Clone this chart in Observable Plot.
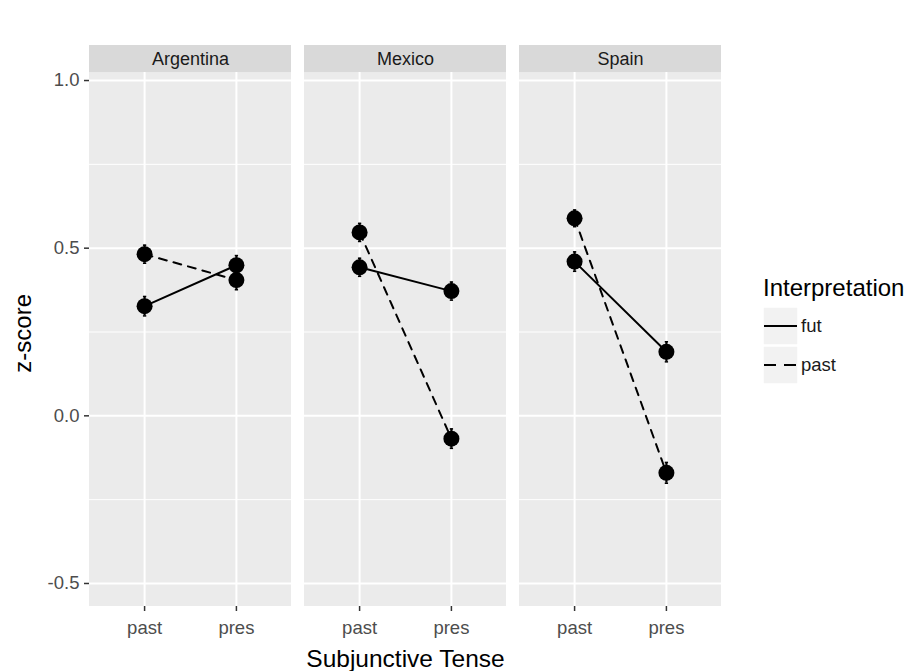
<!DOCTYPE html>
<html><head><meta charset="utf-8">
<script src="https://cdn.jsdelivr.net/npm/d3@7"></script>
<script src="https://cdn.jsdelivr.net/npm/@observablehq/plot@0.6"></script>
<style>
body{margin:0;background:#fff;}
#wrap{position:relative;width:910px;height:671px;font-family:"Liberation Sans",Arial,Helvetica,sans-serif;}
#legend{position:absolute;left:0;top:0;}
</style></head><body><div id="wrap"></div>
<script>
// ---- data ----
const countries = ["Argentina", "Mexico", "Spain"];
const tenses = ["past", "pres"];
const interpretations = ["fut", "past"];
// means, in order: Argentina past, Argentina pres, Mexico past, Mexico pres, Spain past, Spain pres
const futMean  = [0.327, 0.449, 0.443, 0.372, 0.460, 0.191];
const pastMean = [0.482, 0.405, 0.547, -0.068, 0.589, -0.170];
const futSE    = [0.029, 0.029, 0.027, 0.027, 0.029, 0.030];
const pastSE   = [0.027, 0.029, 0.027, 0.029, 0.025, 0.031];
const yTicks = [-0.5, 0, 0.5, 1.0];
const yMinor = [-0.25, 0.25, 0.75];

const rows = [];
countries.forEach((c, ci) => tenses.forEach((t, ti) => {
  const k = ci * 2 + ti;
  rows.push({country: c, tense: t, interp: "fut", mean: futMean[k], se: futSE[k]});
  rows.push({country: c, tense: t, interp: "past", mean: pastMean[k], se: pastSE[k]});
}));

// ---- layout ----
const W = 910, H = 671;
const mL = 88, mR = 188, mT = 45, mB = 65;
const pxPerUnit = 335;
const yMin = -0.5 - 23 / pxPerUnit;
const panelTop = 1.0 + 8 / pxPerUnit;
const yMax = 1.0 + 35 / pxPerUnit;
const stripMid = (panelTop + yMax) / 2;
const xOf = d => tenses.indexOf(d.tense) + 1;
const cap = 0.018;

const chart = Plot.plot({
  width: W, height: H,
  marginLeft: mL, marginRight: mR, marginTop: mT, marginBottom: mB,
  style: {fontFamily: '"Liberation Sans", Arial, Helvetica, sans-serif', background: "white"},
  fx: {domain: countries, paddingInner: 13 / 216, paddingOuter: 0, axis: null, label: null},
  x: {domain: [0.4, 2.6]},
  y: {domain: [yMin, yMax]},
  marks: [
    Plot.rect(countries, {fx: d => d, x1: 0.4, x2: 2.6, y1: yMin, y2: panelTop, fill: "#EBEBEB"}),
    Plot.rect(countries, {fx: d => d, x1: 0.4, x2: 2.6, y1: panelTop, y2: yMax, fill: "#D9D9D9"}),
    Plot.text(countries, {fx: d => d, text: d => d, x: 1.5, y: stripMid, fontSize: 18, fill: "#1A1A1A"}),
    Plot.ruleY(yMinor, {stroke: "white", strokeWidth: 1}),
    Plot.ruleY(yTicks, {stroke: "white", strokeWidth: 2}),
    Plot.ruleX([1, 2], {y1: yMin, y2: panelTop, stroke: "white", strokeWidth: 2}),
    Plot.axisY({ticks: yTicks, tickFormat: d => d.toFixed(1), tickSize: 5, tickPadding: 5, fontSize: 18.5,
      stroke: "#333333", fill: "#4D4D4D", strokeWidth: 1.5, label: null}),
    Plot.axisX({ticks: [1, 2], tickFormat: d => tenses[d - 1], tickSize: 5, tickPadding: 9, fontSize: 18.5,
      stroke: "#333333", fill: "#4D4D4D", strokeWidth: 1.5, label: null}),
    Plot.line(rows.filter(d => d.interp === "fut"), {fx: "country", x: xOf, y: "mean", stroke: "black", strokeWidth: 2}),
    Plot.line(rows.filter(d => d.interp === "past"), {fx: "country", x: xOf, y: "mean", stroke: "black", strokeWidth: 2, strokeDasharray: "8,7"}),
    Plot.ruleX(rows, {fx: "country", x: xOf, y1: d => d.mean - d.se, y2: d => d.mean + d.se, stroke: "black", strokeWidth: 2.2}),
    Plot.link(rows, {fx: "country", x1: d => xOf(d) - cap, x2: d => xOf(d) + cap, y1: d => d.mean + d.se, y2: d => d.mean + d.se, stroke: "black", strokeWidth: 1.5}),
    Plot.link(rows, {fx: "country", x1: d => xOf(d) - cap, x2: d => xOf(d) + cap, y1: d => d.mean - d.se, y2: d => d.mean - d.se, stroke: "black", strokeWidth: 1.5}),
    Plot.dot(rows, {fx: "country", x: xOf, y: "mean", r: 8, fill: "black"}),
    Plot.text(["Subjunctive Tense"], {fx: () => "Mexico", text: d => d, x: 1.5, y: yMin, dy: 43, lineAnchor: "top", fontSize: 24.5, fill: "black"}),
    Plot.text(["z-score"], {fx: () => "Argentina", text: d => d, x: 0.4, y: 0.246, dx: -66, rotate: -90, fontSize: 24, fill: "black", textAnchor: "middle", lineAnchor: "middle"})
  ]
});
const wrap = document.getElementById("wrap");
wrap.appendChild(chart);

// ---- legend ----
const svg = d3.select(wrap).append("svg").attr("id", "legend").attr("width", W).attr("height", H)
  .style("font-family", '"Liberation Sans", Arial, Helvetica, sans-serif');
svg.append("text").attr("x", 763).attr("y", 296).attr("font-size", 24).attr("fill", "black").text("Interpretation");
interpretations.forEach((name, i) => {
  const y0 = 307 + i * 39;
  svg.append("rect").attr("x", 763).attr("y", y0).attr("width", 35).attr("height", 38).attr("fill", "#F2F2F2").attr("stroke", "white").attr("stroke-width", 1.5);
  svg.append("line").attr("x1", 764).attr("x2", 797).attr("y1", y0 + 19).attr("y2", y0 + 19)
    .attr("stroke", "black").attr("stroke-width", 2).attr("stroke-dasharray", i === 1 ? "12,8" : null);
  svg.append("text").attr("x", 801).attr("y", y0 + 19).attr("dy", "0.35em").attr("font-size", 18.5).attr("fill", "#1A1A1A").text(name);
});
</script></body></html>
